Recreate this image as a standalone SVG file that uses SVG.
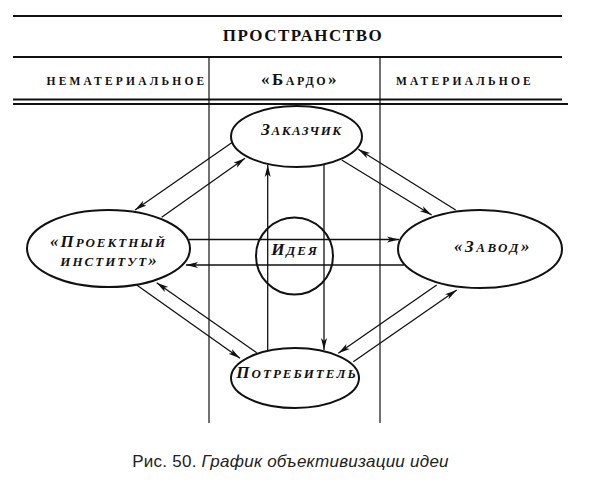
<svg xmlns="http://www.w3.org/2000/svg" width="592" height="487" viewBox="0 0 592 487">
<style>
.hdr{font-family:"Liberation Serif","Times New Roman",serif;font-weight:bold;fill:#111}
.lbl{font-family:"Liberation Serif","Times New Roman",serif;font-weight:bold;font-style:italic;fill:#111}
.node{fill:#fff;stroke:#111;stroke-width:2}
.rule{stroke:#111;stroke-width:2.2}
.sep{stroke:#111;stroke-width:1.2}
.con line{stroke:#111;stroke-width:1.3;marker-end:url(#ah)}
.cap{font-family:"Liberation Sans",Arial,sans-serif;font-size:17px;fill:#222}
</style>
<defs>
<marker id="ah" markerUnits="userSpaceOnUse" markerWidth="14" markerHeight="10" refX="12" refY="4" orient="auto">
<path d="M0,1 L12,4 L0,7 L3,4 Z" fill="#111"/>
</marker>
</defs>
<rect width="592" height="487" fill="#fff"/>
<g id="header">
<line class="rule" x1="13" y1="16" x2="562" y2="16"/>
<text class="hdr" x="303" y="41" font-size="17" text-anchor="middle" letter-spacing="1.5">ПРОСТРАНСТВО</text>
<line class="rule" x1="13" y1="57" x2="562" y2="57"/>
<text class="hdr" x="127" y="85" font-size="11.5" text-anchor="middle" letter-spacing="3.2">НЕМАТЕРИАЛЬНОЕ</text>
<text class="hdr" x="300" y="85" font-size="17" text-anchor="middle" letter-spacing="2.5">«Б<tspan font-size="12">АРДО</tspan>»</text>
<text class="hdr" x="465" y="85" font-size="11.5" text-anchor="middle" letter-spacing="3.2">МАТЕРИАЛЬНОЕ</text>
<line class="rule" x1="13" y1="99.5" x2="562" y2="99.5"/>
<line class="rule" x1="13" y1="104" x2="568" y2="104"/>
<line class="sep" x1="209" y1="57" x2="209" y2="423"/>
<line class="sep" x1="380" y1="57" x2="380" y2="423"/>
</g>
<g id="connectors" class="con">
<line x1="231.7" y1="142.7" x2="135" y2="210"/>
<line x1="161.7" y1="217.3" x2="245" y2="158.3"/>
<line x1="341.7" y1="160" x2="431.7" y2="215"/>
<line x1="455.7" y1="210" x2="358.3" y2="149.3"/>
<line x1="136.7" y1="285" x2="240" y2="358.3"/>
<line x1="256.7" y1="352.7" x2="156.7" y2="282.7"/>
<line x1="436.7" y1="285" x2="338.3" y2="353.3"/>
<line x1="353.3" y1="361.7" x2="456.7" y2="290"/>
<line x1="189" y1="239.5" x2="399" y2="239.5"/>
<line x1="404" y1="265" x2="186" y2="265"/>
<line x1="267.7" y1="352" x2="267.7" y2="165"/>
<line x1="324" y1="165" x2="324" y2="350"/>
</g>
<g id="idea">
<circle cx="294.5" cy="256" r="38.5" fill="none" stroke="#111" stroke-width="2"/>
<text class="lbl" x="295" y="255" font-size="17" text-anchor="middle" letter-spacing="2">И<tspan font-size="13">ДЕЯ</tspan></text>
</g>
<g id="zakazchik">
<ellipse class="node" cx="296.5" cy="136.5" rx="65.5" ry="30.5"/>
<text class="lbl" x="302" y="135" font-size="17" text-anchor="middle" letter-spacing="1.5">З<tspan font-size="13">АКАЗЧИК</tspan></text>
</g>
<g id="institut">
<ellipse class="node" cx="108.5" cy="248.5" rx="81.5" ry="38.5"/>
<text class="lbl" x="108.5" y="247" font-size="17" text-anchor="middle" letter-spacing="2">«П<tspan font-size="13">РОЕКТНЫЙ</tspan></text>
<text class="lbl" x="109.5" y="266" font-size="13" text-anchor="middle" letter-spacing="2">ИНСТИТУТ<tspan font-size="17">»</tspan></text>
</g>
<g id="zavod">
<ellipse class="node" cx="480" cy="249" rx="82" ry="39"/>
<text class="lbl" x="493" y="252" font-size="17" text-anchor="middle" letter-spacing="2.5">«З<tspan font-size="13">АВОД</tspan>»</text>
</g>
<g id="potrebitel">
<ellipse class="node" cx="295" cy="378" rx="64" ry="30"/>
<text class="lbl" x="297" y="378" font-size="17" text-anchor="middle" letter-spacing="2">П<tspan font-size="13">ОТРЕБИТЕЛЬ</tspan></text>
</g>
<text class="cap" x="290.5" y="467" text-anchor="middle" letter-spacing="0.25">Рис. 50. <tspan font-style="italic">График объективизации идеи</tspan></text>
</svg>
